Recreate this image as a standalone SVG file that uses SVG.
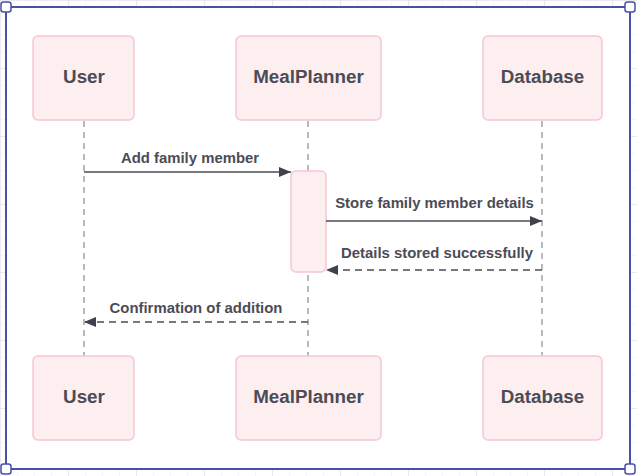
<svg xmlns="http://www.w3.org/2000/svg" width="637" height="476" viewBox="0 0 637 476">
<defs>
<pattern id="gridS" width="17" height="17" patternUnits="userSpaceOnUse" x="1" y="1">
<path d="M17 0V17M0 17H17" fill="none" stroke="#ececf2" stroke-width="1"/>
</pattern>
<pattern id="gridL" width="68" height="68" patternUnits="userSpaceOnUse" x="1" y="1">
<path d="M68 0V68M0 68H68" fill="none" stroke="#dcdce4" stroke-width="1"/>
</pattern>
<marker id="ah" viewBox="0 0 12 10" refX="12" refY="5" markerWidth="12" markerHeight="10" markerUnits="userSpaceOnUse" orient="auto">
<path d="M0 0L12 5L0 10Z" fill="#3f424c"/>
</marker>
</defs>
<style>
.box{fill:#fdeef0;stroke:#f6c6d6;stroke-width:1.5}
.lbl{font-family:"Liberation Sans",Arial,sans-serif;font-weight:bold;font-size:18.8px;fill:#4b4c55;text-anchor:middle}
.msg{font-family:"Liberation Sans",Arial,sans-serif;font-weight:bold;font-size:14.9px;fill:#4b4c55;text-anchor:middle}
.life{stroke:#8a8c94;stroke-width:1.2;stroke-dasharray:6 5;fill:none}
.ln{stroke:#4b4d55;stroke-width:1.3;fill:none}
.dash{stroke-dasharray:7 5}
.handle{fill:#fff;stroke:#4a4fa8;stroke-width:1.5}
</style>
<rect width="637" height="476" fill="#fff"/>
<rect width="637" height="476" fill="url(#gridS)"/>
<rect width="637" height="476" fill="url(#gridL)"/>
<rect x="6" y="7" width="624" height="462" fill="#fff" stroke="#4a4fa8" stroke-width="2"/>

<g id="lifelines">
<path class="life" d="M84 121V356"/>
<path class="life" d="M308 121V356"/>
<path class="life" d="M542 121V356"/>
</g>

<g id="user-top"><rect class="box" x="33" y="36" width="101" height="84" rx="5"/><text class="lbl" x="84" y="83">User</text></g>
<g id="mealplanner-top"><rect class="box" x="236" y="36" width="145" height="84" rx="5"/><text class="lbl" x="308.5" y="83">MealPlanner</text></g>
<g id="database-top"><rect class="box" x="483" y="36" width="119" height="84" rx="5"/><text class="lbl" x="542.5" y="83">Database</text></g>
<g id="user-bottom"><rect class="box" x="33" y="356" width="101" height="84" rx="5"/><text class="lbl" x="84" y="403">User</text></g>
<g id="mealplanner-bottom"><rect class="box" x="236" y="356" width="145" height="84" rx="5"/><text class="lbl" x="308.5" y="403">MealPlanner</text></g>
<g id="database-bottom"><rect class="box" x="483" y="356" width="119" height="84" rx="5"/><text class="lbl" x="542.5" y="403">Database</text></g>
<g id="activation"><rect class="box" x="291" y="171" width="35" height="101" rx="5"/></g>

<g id="connectors">
<path class="ln" d="M84 172H291" marker-end="url(#ah)"/>
<text class="msg" x="190" y="163">Add family member</text>
<path class="ln" d="M326 221H542" marker-end="url(#ah)"/>
<text class="msg" x="434.5" y="208">Store family member details</text>
<path class="ln dash" d="M542 270H326" marker-end="url(#ah)"/>
<text class="msg" x="437" y="258">Details stored successfully</text>
<path class="ln dash" d="M308 322H84" marker-end="url(#ah)"/>
<text class="msg" x="196" y="313">Confirmation of addition</text>
</g>

<g id="handles">
<rect class="handle" x="1" y="2" width="10" height="10" rx="2.5"/>
<rect class="handle" x="625" y="2" width="10" height="10" rx="2.5"/>
<rect class="handle" x="1" y="464" width="10" height="10" rx="2.5"/>
<rect class="handle" x="625" y="464" width="10" height="10" rx="2.5"/>
</g>
</svg>
